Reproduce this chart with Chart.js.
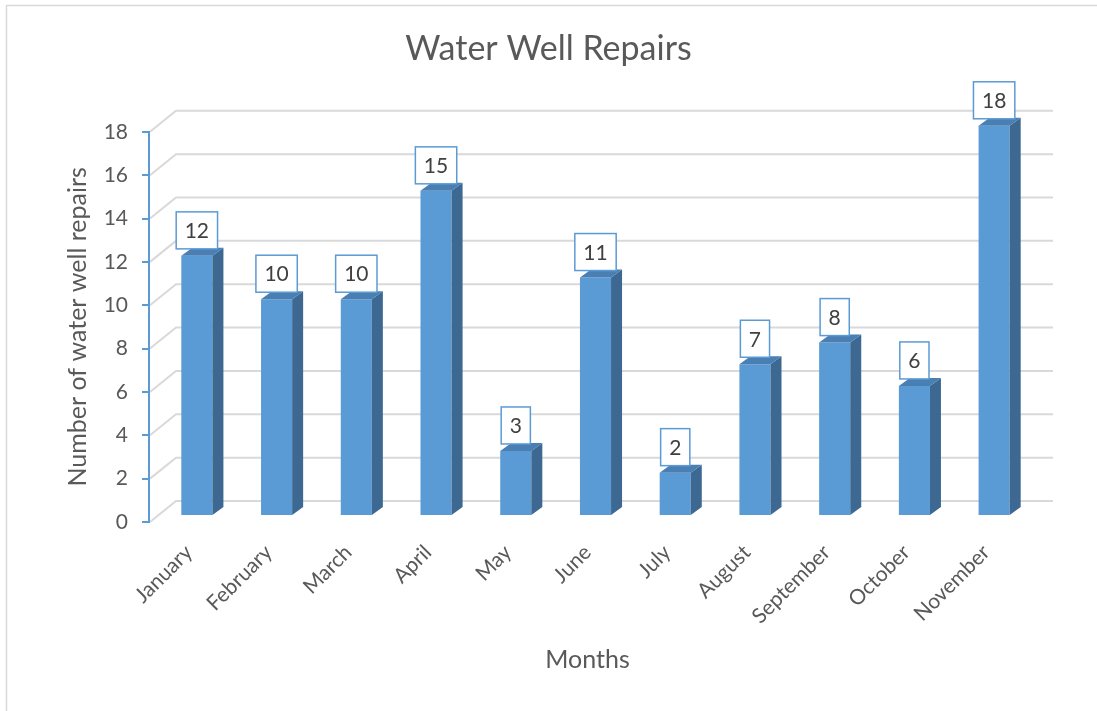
<!DOCTYPE html>
<html>
<head>
<meta charset="utf-8">
<script src="https://cdn.jsdelivr.net/npm/chart.js@4/dist/chart.umd.min.js"></script>
<style>
  html, body { margin: 0; padding: 0; background: #fff; }
  canvas { display: block; }
</style>
</head>
<body>
<canvas id="wellChart" width="1097" height="711"></canvas>
<script>
// Datos del gráfico
const months = ["January", "February", "March", "April", "May", "June",
                "July", "August", "September", "October", "November"];
const repairs = [12, 10, 10, 15, 3, 11, 2, 7, 8, 6, 18];
const yTickValues = [0, 2, 4, 6, 8, 10, 12, 14, 16, 18];

const FONT = "Lato, 'Open Sans', sans-serif";
const TEXT = "#595959";
const BLUE = "#5b9bd5";

// desplazamientos de la "profundidad" 3D
const WALL_DX = 27, WALL_DY = -21;   // pared del fondo
const FRONT_DX = 8, FRONT_DY = -6;   // cara frontal de las barras
const BAR_DX = 11, BAR_DY = -8;      // grosor de la barra

const depth3d = {
    id: "depth3d",
    beforeDraw(chart) {
        const ctx = chart.ctx;
        ctx.save();
        ctx.fillStyle = "#fff";
        ctx.fillRect(0, 0, chart.width, chart.height);
        ctx.strokeStyle = "#d9d9d9";
        ctx.lineWidth = 1.5;
        ctx.strokeRect(6.5, 5.5, chart.width + 50, chart.height + 50);

        // líneas de cuadrícula en la pared izquierda y del fondo
        const { left, right } = chart.chartArea;
        const y = chart.scales.y;
        ctx.strokeStyle = "#d9d9d9";
        ctx.lineWidth = 2;
        y.ticks.forEach(t => {
            const py = y.getPixelForValue(t.value);
            ctx.beginPath();
            ctx.moveTo(left + 1, py);
            ctx.lineTo(left + WALL_DX, py + WALL_DY);
            ctx.lineTo(right + WALL_DX, py + WALL_DY);
            ctx.stroke();
        });
        ctx.restore();
    },
    beforeDatasetDraw(chart) {
        chart.ctx.save();
        chart.ctx.translate(FRONT_DX, FRONT_DY);
    },
    afterDatasetDraw(chart, args) {
        const ctx = chart.ctx;
        args.meta.data.forEach(bar => {
            const { x, y, base, width } = bar.getProps(["x", "y", "base", "width"], true);
            const l = x - width / 2, r = x + width / 2;
            // lateral
            ctx.fillStyle = "#3c6891";
            ctx.beginPath();
            ctx.moveTo(r, y);
            ctx.lineTo(r + BAR_DX, y + BAR_DY);
            ctx.lineTo(r + BAR_DX, base + BAR_DY);
            ctx.lineTo(r, base);
            ctx.closePath();
            ctx.fill();
            // tapa
            ctx.fillStyle = "#4a7fb4";
            ctx.beginPath();
            ctx.moveTo(l, y);
            ctx.lineTo(l + BAR_DX, y + BAR_DY);
            ctx.lineTo(r + BAR_DX, y + BAR_DY);
            ctx.lineTo(r, y);
            ctx.closePath();
            ctx.fill();
        });
        ctx.restore();
    },
    afterDatasetsDraw(chart) {
        // etiquetas de datos con recuadro
        const ctx = chart.ctx;
        const meta = chart.getDatasetMeta(0);
        ctx.save();
        ctx.font = "21px " + FONT;
        ctx.textAlign = "center";
        ctx.textBaseline = "middle";
        meta.data.forEach((bar, i) => {
            const { x, y } = bar.getProps(["x", "y"], true);
            const txt = String(repairs[i]);
            const w = ctx.measureText(txt).width + 17;
            const h = 37;
            const cx = x + FRONT_DX;
            const bottom = y + FRONT_DY - 7;
            ctx.fillStyle = "#fff";
            ctx.fillRect(cx - w / 2, bottom - h, w, h);
            ctx.strokeStyle = BLUE;
            ctx.lineWidth = 1.5;
            ctx.strokeRect(cx - w / 2, bottom - h, w, h);
            ctx.fillStyle = "#404040";
            ctx.fillText(txt, cx, bottom - h / 2 + 1);
        });
        ctx.restore();
    }
};

const ctx = document.getElementById("wellChart").getContext("2d");
const wellChart = new Chart(ctx, {
    type: "bar",
    data: {
        labels: months,
        datasets: [{
            label: "Water Well Repairs",
            data: repairs,
            backgroundColor: BLUE,
            borderWidth: 0,
            barPercentage: 0.39,
            categoryPercentage: 1,
            clip: false
        }]
    },
    options: {
        responsive: false,
        animation: false,
        devicePixelRatio: 1,
        layout: { padding: 0 },
        plugins: {
            legend: { display: false },
            tooltip: { enabled: false },
            title: {
                display: true,
                text: "Water Well Repairs",
                color: TEXT,
                font: { family: FONT, size: 34, weight: "normal" },
                padding: { top: 29, bottom: 62 }
            }
        },
        scales: {
            x: {
                grid: { display: false },
                border: { display: false },
                ticks: {
                    color: TEXT,
                    font: { family: FONT, size: 21 },
                    minRotation: 45,
                    maxRotation: 45,
                    padding: 10
                },
                title: {
                    display: true,
                    text: "Months",
                    color: TEXT,
                    font: { family: FONT, size: 25 },
                    padding: { top: 0, bottom: 36 }
                },
                afterFit: s => { s.height = 189; }
            },
            y: {
                min: 0,
                max: 18,
                afterBuildTicks: s => { s.ticks = yTickValues.map(v => ({ value: v })); },
                grid: {
                    drawOnChartArea: false,
                    color: BLUE,
                    lineWidth: 2,
                    tickLength: 7
                },
                border: { display: true, color: BLUE, width: 2 },
                ticks: {
                    color: TEXT,
                    font: { family: FONT, size: 21 },
                    padding: 14
                },
                title: {
                    display: true,
                    text: "Number of water well repairs",
                    color: TEXT,
                    font: { family: FONT, size: 25 },
                    padding: { top: 63, bottom: 0 }
                },
                afterFit: s => { s.width = 149; }
            },
            // eje vacío para reservar el margen derecho
            y2: {
                position: "right",
                display: true,
                grid: { display: false },
                border: { display: false },
                ticks: { display: false },
                afterFit: s => { s.width = 71; }
            }
        }
    },
    plugins: [depth3d]
});
</script>
</body>
</html>
